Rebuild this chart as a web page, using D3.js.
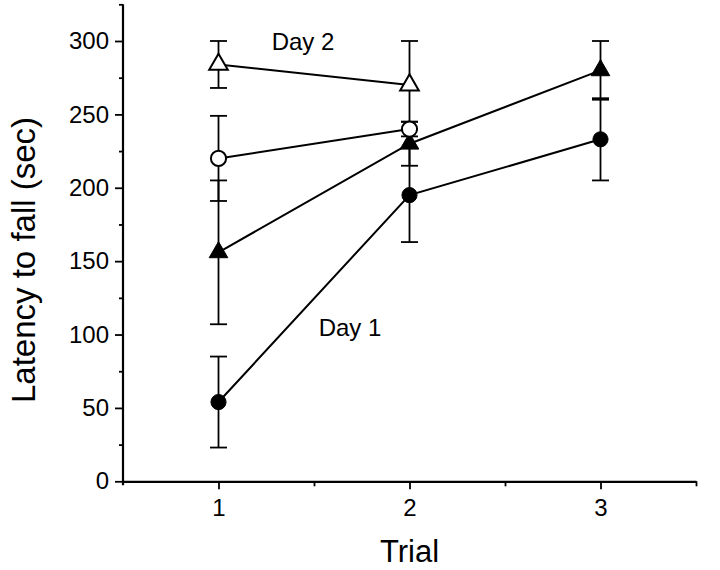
<!DOCTYPE html>
<meta charset="utf-8">
<script src="https://cdn.jsdelivr.net/npm/d3@7"></script>
<style>
  body { margin: 0; background: #fff; }
  text { font-family: "Liberation Sans", Arial, sans-serif; fill: #000; }
</style>
<body>
<script>

var width = 720
var height = 570

// data
var trials = [1, 2, 3]
var day1Circle = [54, 195, 233]
var day1CircleErr = [31, 32, 28]
var day1Triangle = [156, 230, 280]
var day1TriangleErr = [49, 15, 20]
var day2Circle = [220, 240]
var day2CircleErr = [29, 5]
var day2Triangle = [284, 270]
var day2TriangleErr = [16, 30]

var yMajor = [0, 50, 100, 150, 200, 250, 300]
var yMinor = [25, 75, 125, 175, 225, 275, 325]
var xMajor = [1, 2, 3]
var xMinor = [1.5, 2.5, 3.5]

var series = [
  { name: "day1Circle", values: day1Circle, err: day1CircleErr, shape: "circle", filled: true },
  { name: "day1Triangle", values: day1Triangle, err: day1TriangleErr, shape: "triangle", filled: true },
  { name: "day2Circle", values: day2Circle, err: day2CircleErr, shape: "circle", filled: false },
  { name: "day2Triangle", values: day2Triangle, err: day2TriangleErr, shape: "triangle", filled: false }
]

var x = d3.scaleLinear().domain([0.5, 3.5]).range([123, 696])
var y = d3.scaleLinear().domain([0, 300]).range([481.3, 41])

var svg = d3.select("body").append("svg")
            .attr("width", width)
            .attr("height", height)

// axes
var yAxis = svg.append("g")
    .attr("transform", "translate(123,0)")
    .call(d3.axisLeft(y).tickValues(yMajor).tickFormat(d3.format("d")).tickSize(8).tickPadding(6).tickSizeOuter(0))
svg.append("g")
    .attr("transform", "translate(123,0)")
    .call(d3.axisLeft(y).tickValues(yMinor).tickSize(4).tickFormat("").tickSizeOuter(0))
    .select(".domain").remove()
yAxis.select(".domain").attr("d", "M0," + y(325) + "V" + (y(0) + 4))

var xAxis = svg.append("g")
    .attr("transform", "translate(0," + y(0) + ")")
    .call(d3.axisBottom(x).tickValues(xMajor).tickFormat(d3.format("d")).tickSize(8).tickPadding(10).tickSizeOuter(0))
svg.append("g")
    .attr("transform", "translate(0," + y(0) + ")")
    .call(d3.axisBottom(x).tickValues(xMinor).tickSize(5).tickFormat("").tickSizeOuter(0))
    .select(".domain").remove()

svg.selectAll(".domain").attr("stroke", "#000").attr("stroke-width", 2.2)
svg.selectAll(".tick line").attr("stroke", "#000").attr("stroke-width", 1.8)
yAxis.selectAll(".tick text").style("font-size", "24px")
xAxis.selectAll(".tick text").style("font-size", "24px")

// error bars
var capW = 8.5
series.forEach(function(s) {
  var g = svg.append("g")
  s.values.forEach(function(v, i) {
    var cx = x(trials[i])
    var lo = y(v - s.err[i]), hi = y(v + s.err[i])
    g.append("line").attr("x1", cx).attr("x2", cx).attr("y1", lo).attr("y2", hi)
     .attr("stroke", "#000").attr("stroke-width", 1.8)
    ;[lo, hi].forEach(function(yy) {
      g.append("line").attr("x1", cx - capW).attr("x2", cx + capW).attr("y1", yy).attr("y2", yy)
       .attr("stroke", "#000").attr("stroke-width", 1.8)
    })
  })
})

// connecting lines
var line = d3.line().x(function(d, i) { return x(trials[i]) }).y(function(d) { return y(d) })
series.forEach(function(s) {
  svg.append("path").attr("d", line(s.values))
     .attr("fill", "none").attr("stroke", "#000").attr("stroke-width", 2)
})

// markers
var circleSym = d3.symbol().type(d3.symbolCircle).size(180)
var triSym = d3.symbol().type(d3.symbolTriangle).size(150)
series.forEach(function(s) {
  svg.append("g").selectAll("path")
     .data(s.values)
     .join("path")
     .attr("transform", function(d, i) { return "translate(" + x(trials[i]) + "," + y(d) + ")" })
     .attr("d", s.shape == "circle" ? circleSym : triSym)
     .attr("fill", s.filled ? "#000" : "#fff")
     .attr("stroke", "#000")
     .attr("stroke-width", s.filled ? 1 : 2)
})

// annotations
svg.append("text")
   .attr("x", 303).attr("y", 50)
   .style("text-anchor", "middle")
   .style("font-size", "24px")
   .text("Day 2")

svg.append("text")
   .attr("x", 350).attr("y", 336)
   .style("text-anchor", "middle")
   .style("font-size", "24px")
   .text("Day 1")

svg.append("text")
   .attr("x", (x(0.5) + x(3.5)) / 2).attr("y", 562)
   .style("text-anchor", "middle")
   .style("font-size", "31px")
   .text("Trial")

svg.append("text")
   .attr("transform", "translate(35,260) rotate(-90)")
   .style("text-anchor", "middle")
   .style("font-size", "33px")
   .text("Latency to fall (sec)")

</script>
</body>
